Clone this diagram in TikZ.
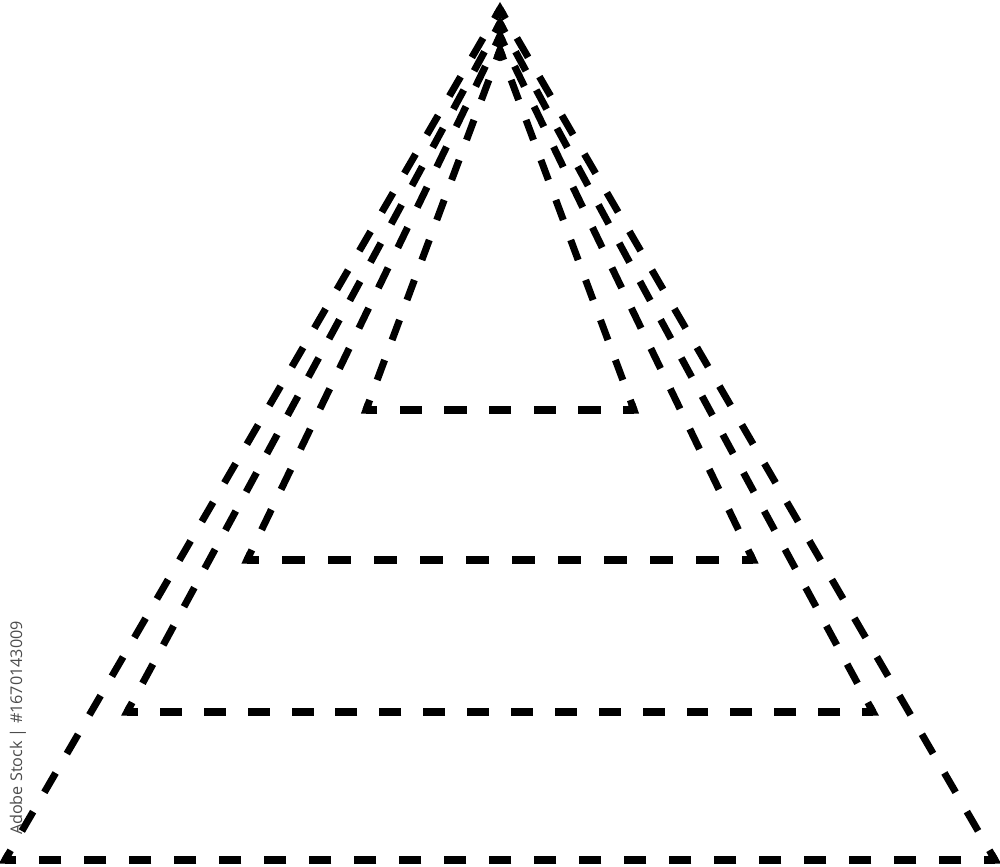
\documentclass[tikz,border=0pt]{standalone}
\usepackage{fontspec}
\setsansfont{Open Sans}
\usetikzlibrary{calc}
\tikzset{tier/.style={black, line width=2pt, line join=miter, line cap=butt},
         stamp/.style={rotate=90, text=black!70, inner sep=0pt, font=\sffamily\fontsize{4.6}{5}\selectfont}}
% a dashed side whose dashes meet both ends
\newcommand\side[2]{\path let \p1=($(#2)-(#1)$), \n1={veclen(\x1,\y1)}, \n2={\n1/round(\n1/12.6pt)} in
  [draw, tier, dash pattern=on 0.5*\n2 off 0.5*\n2, dash phase=0.25*\n2] (#1) -- (#2);}
% a solid mitred corner piece
\newcommand\corner[3]{\draw[tier] ($(#2)!2pt!(#1)$) -- (#2) -- ($(#2)!2pt!(#3)$);}

\begin{document}
\begin{tikzpicture}
   \useasboundingbox (0,0) rectangle (10,8.66);
   % one dashed triangle for every tier, the tops stacked one over another
   \foreach \name/\top/\y/\xl/\xr in {one/8.16/4.56/3.66/6.34, two/8.30/3.06/2.47/7.53, three/8.43/1.54/1.27/8.73, four/8.57/0.06/0.05/9.95} {
     \coordinate (\name t) at (5.00,\top);
     \coordinate (\name l) at (\xl,\y);
     \coordinate (\name r) at (\xr,\y);
     \side{\name t}{\name r}
     \side{\name r}{\name l}
     \side{\name l}{\name t}
     \corner{\name l}{\name t}{\name r}
     \corner{\name t}{\name r}{\name l}
     \corner{\name r}{\name l}{\name t}
   }
   \node[stamp] (mark) at (0.18,1.38) {Adobe Stock | \#1670143009};
\end{tikzpicture}
\end{document}
